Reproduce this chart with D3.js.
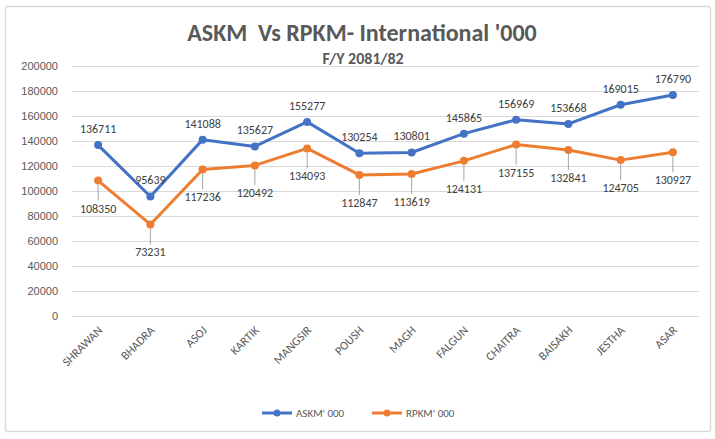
<!DOCTYPE html>
<html>
<head>
<meta charset="utf-8">
<script src="https://cdn.jsdelivr.net/npm/d3@7"></script>
<style>
  body { margin: 0; background: #fff; font-family: Carlito, "Open Sans", "Liberation Sans", sans-serif; }
</style>
</head>
<body>
<div id="chart"></div>
<script>
var months = ['SHRAWAN', 'BHADRA', 'ASOJ', 'KARTIK', 'MANGSIR', 'POUSH', 'MAGH', 'FALGUN', 'CHAITRA', 'BAISAKH', 'JESTHA', 'ASAR'];
var askm = [136711, 95639, 141088, 135627, 155277, 130254, 130801, 145865, 156969, 153668, 169015, 176790];
var rpkm = [108350, 73231, 117236, 120492, 134093, 112847, 113619, 124131, 137155, 132841, 124705, 130927];
var yTicks = [0, 20000, 40000, 60000, 80000, 100000, 120000, 140000, 160000, 180000, 200000];
var seriesNames = ["ASKM' 000", "RPKM' 000"];
var blue = '#4472C4', orange = '#ED7D31';

var width = 715, height = 439;
var svg = d3.select('#chart').append('svg').attr('width', width).attr('height', height);

// chart frame
svg.append('rect').attr('x', 5.5).attr('y', 6.5).attr('width', 705).attr('height', 425)
  .attr('fill', '#fff').attr('stroke', '#d9d9d9').attr('stroke-width', 1.5).attr('rx', 2);

var x = d3.scaleBand().domain(months).range([72, 699]);
var y = d3.scaleLinear().domain([0, 200000]).range([316, 66]);

svg.append('text').attr('x', 362).attr('y', 41).attr('text-anchor', 'middle')
  .style('font-size', '24px').style('font-weight', 'bold').style('fill', '#595959').style('white-space', 'pre')
  .text("ASKM  Vs RPKM- International '000");
svg.append('text').attr('x', 363).attr('y', 64).attr('text-anchor', 'middle')
  .style('font-size', '16px').style('font-weight', 'bold').style('fill', '#595959')
  .text('F/Y 2081/82');

// gridlines + y labels
var yAxis = svg.append('g').attr('transform', 'translate(72,0)')
  .call(d3.axisLeft(y).tickValues(yTicks).tickSize(-627).tickPadding(14).tickFormat(d3.format('d')));
yAxis.select('.domain').remove();
yAxis.selectAll('line').attr('stroke', '#d9d9d9');
yAxis.selectAll('text').style('font-size', '11px').style('fill', '#595959').style('font-family', 'inherit');

// x labels, rotated 45 degrees, ending at the category centre
var xLabels = svg.append('g');
xLabels.selectAll('text').data(months).enter().append('text')
  .attr('text-anchor', 'end')
  .attr('transform', function(d) { return 'translate(' + (x(d) + x.bandwidth() / 2 + 5) + ',331) rotate(-45)'; })
  .style('font-size', '12px').style('fill', '#595959')
  .text(function(d) { return d; });

var cx = function(d, i) { return x(months[i]) + x.bandwidth() / 2; };
var line = d3.line().x(cx).y(function(d) { return y(d); });

function drawSeries(values, color, labelDy, leader) {
  var g = svg.append('g');
  if (leader) {
    g.selectAll('line.leader').data(values).enter().append('line')
      .attr('x1', cx).attr('x2', cx)
      .attr('y1', function(d) { return y(d) + 4; })
      .attr('y2', function(d) { return y(d) + labelDy - 12; })
      .attr('stroke', '#a6a6a6').attr('stroke-width', 1);
  }
  g.append('path').datum(values).attr('d', line)
    .attr('fill', 'none').attr('stroke', color).attr('stroke-width', 3).attr('stroke-linejoin', 'round');
  g.selectAll('circle').data(values).enter().append('circle')
    .attr('cx', cx).attr('cy', function(d) { return y(d); }).attr('r', 4).attr('fill', color);
  g.selectAll('text').data(values).enter().append('text')
    .attr('x', cx).attr('y', function(d) { return y(d) + labelDy; })
    .attr('text-anchor', 'middle').style('font-size', '12px').style('fill', '#404040')
    .text(function(d) { return d; });
}
drawSeries(askm, blue, -12, false);
drawSeries(rpkm, orange, 32, true);

// legend
var legend = svg.append('g').attr('transform', 'translate(0,413)');
[blue, orange].forEach(function(c, i) {
  var lx = 262 + i * 110;
  legend.append('line').attr('x1', lx).attr('x2', lx + 30).attr('y1', 0).attr('y2', 0)
    .attr('stroke', c).attr('stroke-width', 3);
  legend.append('circle').attr('cx', lx + 15).attr('cy', 0).attr('r', 3.5).attr('fill', c);
  legend.append('text').attr('x', lx + 34).attr('y', 4).style('font-size', '11px').style('fill', '#595959')
    .text(seriesNames[i]);
});
</script>
</body>
</html>
